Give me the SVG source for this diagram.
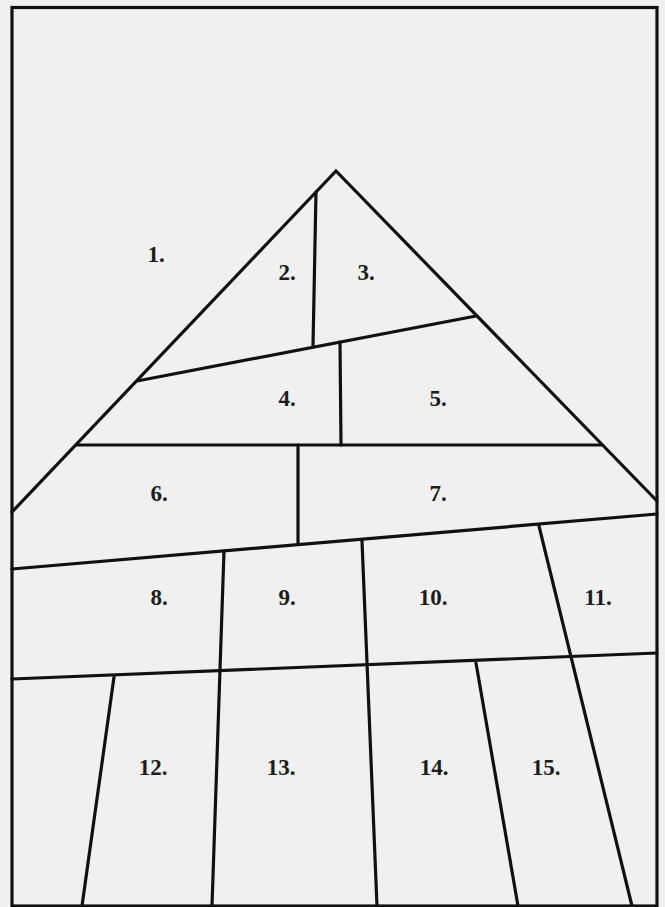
<svg xmlns="http://www.w3.org/2000/svg" width="665" height="907" viewBox="0 0 665 907">
<style>
  .ln { stroke: #111; stroke-width: 3.2; fill: none; stroke-linecap: round; stroke-linejoin: miter; }
  .lb { font-family: 'Liberation Serif', 'Times New Roman', Times, serif; font-weight: 700; font-size: 23px; fill: #1c1c1c; text-anchor: middle; }
</style>
<rect x="0" y="0" width="665" height="907" fill="#f0f0f0"/>
<g id="lines" class="ln">
  <rect x="12" y="7.5" width="645" height="898.5"/>
  <polyline points="12,512 336,171 657,501"/>
  <line x1="316" y1="192" x2="313" y2="347"/>
  <line x1="137" y1="381" x2="476" y2="316"/>
  <line x1="340" y1="342" x2="341" y2="445"/>
  <line x1="76" y1="445" x2="602" y2="445"/>
  <line x1="298" y1="445" x2="298" y2="544"/>
  <line x1="12" y1="569" x2="657" y2="514"/>
  <line x1="224" y1="551" x2="212" y2="906"/>
  <line x1="362" y1="541" x2="377" y2="906"/>
  <line x1="539" y1="526" x2="632" y2="906"/>
  <line x1="12" y1="679" x2="657" y2="653"/>
  <line x1="114" y1="677" x2="82" y2="906"/>
  <line x1="476" y1="663" x2="518" y2="906"/>
</g>
<g id="n1"><text class="lb" x="156" y="262">1.</text></g>
<g id="n2"><text class="lb" x="287" y="280">2.</text></g>
<g id="n3"><text class="lb" x="366" y="280">3.</text></g>
<g id="n4"><text class="lb" x="287" y="406">4.</text></g>
<g id="n5"><text class="lb" x="438" y="406">5.</text></g>
<g id="n6"><text class="lb" x="159" y="501">6.</text></g>
<g id="n7"><text class="lb" x="438" y="501">7.</text></g>
<g id="n8"><text class="lb" x="159" y="605">8.</text></g>
<g id="n9"><text class="lb" x="287" y="605">9.</text></g>
<g id="n10"><text class="lb" x="433" y="605">10.</text></g>
<g id="n11"><text class="lb" x="598" y="605">11.</text></g>
<g id="n12"><text class="lb" x="153" y="775">12.</text></g>
<g id="n13"><text class="lb" x="281" y="775">13.</text></g>
<g id="n14"><text class="lb" x="434" y="775">14.</text></g>
<g id="n15"><text class="lb" x="546" y="775">15.</text></g>
</svg>
